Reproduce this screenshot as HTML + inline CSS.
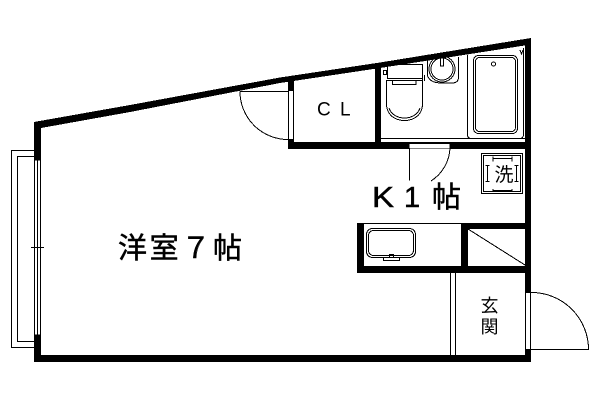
<!DOCTYPE html>
<html><head><meta charset="utf-8"><style>
html,body{margin:0;padding:0;background:#fff}
svg{display:block}
text{font-family:"Liberation Sans","Noto Sans CJK JP",sans-serif;fill:#000}
.b{stroke:#000;stroke-width:.5}
</style></head><body>
<svg width="600" height="400" viewBox="0 0 600 400" xmlns="http://www.w3.org/2000/svg">
<rect width="600" height="400" fill="#fff"/>
<g fill="#000" shape-rendering="crispEdges">
<polygon points="34,122 130,105 280,77.500 380,62.500 531,38 531,44.500 380,68 280,83 130,112 41,128 34,130"/>
<rect x="34" y="123" width="7" height="37"/>
<rect x="34" y="335" width="7" height="27"/>
<rect x="34" y="355" width="497" height="7"/>
<rect x="525" y="40" width="6" height="252"/>
<rect x="525" y="349" width="6" height="13"/>
<rect x="288" y="80" width="6" height="11"/>
<rect x="288" y="139" width="6" height="10"/>
<rect x="288" y="142" width="237" height="7"/>
<rect x="375" y="66" width="6" height="78"/>
<rect x="357" y="223" width="7" height="50"/>
<rect x="357" y="266" width="168" height="7"/>
<rect x="461" y="223" width="7" height="50"/>
<rect x="461" y="223" width="64" height="6"/>
<rect x="357" y="223" width="104" height="1"/>
</g>
<g fill="#fff" stroke="#000" stroke-width="1" shape-rendering="crispEdges">
<rect x="409.500" y="143.500" width="40" height="5" stroke="none"/>
<rect x="525.500" y="292.500" width="5" height="57"/>
<rect x="34.500" y="160" width="6" height="175"/>
</g>
<g fill="none" stroke="#000" stroke-width="1" shape-rendering="crispEdges">
<path d="M37.500 160V335M31 247.500H44"/>
<rect x="11.500" y="150.500" width="23" height="197"/>
<rect x="17.500" y="156.500" width="17" height="185"/>
<path d="M288.500 91V139M293.500 91V139M240 91.500H288"/>
<path d="M240 91.500A48 48 0 0 0 288 139.500"/>
<path d="M409.500 148V180.500"/>
<path d="M450 148A41 41 0 0 1 431 181"/>
<path d="M409.500 143.500H450"/>
<path d="M531 292.500A57 57 0 0 1 588.500 349.500H531"/>
<path d="M450.500 273V355M455.500 273V355"/>
<path d="M381 138.500H525"/>
<!-- toilet -->
<path d="M387.500 65V78.500M422.500 64V80M387 64.500H422M387 78.500H422M387 80.500H422"/>
<rect x="383.500" y="70.500" width="3" height="4"/>
<path d="M392.500 80.500V84.500H416V80.500"/>
<path d="M386.500 80V104C386.500 114 394 120.500 404.500 120.500C415 120.500 422.500 114 422.500 104V80"/>
<path d="M389 108C391 114 397 118 404.500 118C412 118 418 114 420 108"/>
<path d="M424.500 75V81"/>
<!-- basin -->
<path d="M427.500 60V76C430 81 434 83 442 83H452C456 83 458.500 81 458.500 77V57"/>
<circle cx="442" cy="69" r="13"/>
<circle cx="442" cy="69" r="11"/>
<path d="M440.500 58V66H443.500V58"/>
<!-- bath -->
<path d="M467.500 55V134.500Q467.500 138.500 471.500 138.500M523.500 48V134.500Q523.500 138.500 519 138.500"/>
<rect x="473.500" y="55.500" width="44" height="78" rx="5"/>
<rect x="475.500" y="57.500" width="40" height="74" rx="4"/>
<circle cx="493.500" cy="64" r="2"/>
<path d="M520 50L521.500 54L523 50"/>
<!-- kitchen sink -->
<rect x="366.500" y="228.500" width="49" height="29" rx="6"/>
<rect x="368.500" y="230.500" width="45" height="25" rx="5"/>
<rect x="383.500" y="257.500" width="16" height="3"/>
<rect x="389.500" y="254.500" width="4" height="3"/>
<path d="M468 229L525 265"/>
<!-- washer -->
<rect x="481.500" y="153.500" width="41" height="40"/>
<rect x="483.500" y="155.500" width="37" height="36"/>
<path d="M493 156.500V161.500M512 156.500V161.500M493 158.500H512M493 189V191M512 189V191M493 190.500H512"/>
<path d="M487.500 165V182M485.500 165.500H489.500M485.500 181.500H489.500M516.500 165V182M514.500 165.500H518.500M514.500 181.500H518.500"/>
</g>
<text x="504" y="181" font-size="19" text-anchor="middle">洗</text>
<text class="b" x="118" y="258" font-size="29" textLength="124" lengthAdjust="spacing">洋室７帖</text>
<text class="b" x="372" y="207" font-size="29" textLength="22" lengthAdjust="spacingAndGlyphs">K</text>
<text class="b" x="404" y="207" font-size="29">1</text>
<text class="b" x="432" y="207" font-size="29">帖</text>
<text x="317" y="115.500" font-size="19">C</text>
<text x="340" y="115.500" font-size="19">L</text>
<text x="489.500" y="312" font-size="18" text-anchor="middle">玄</text>
<text x="489.500" y="333" font-size="18" text-anchor="middle">関</text>
</svg>
</body></html>
